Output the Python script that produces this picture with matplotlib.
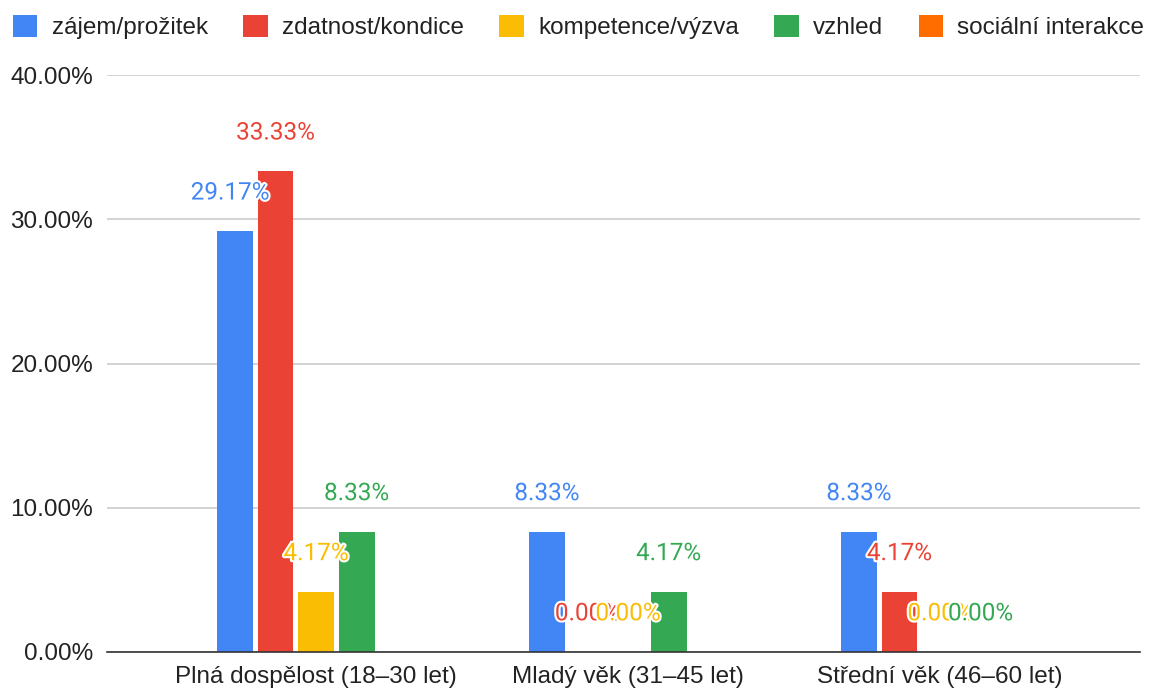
import matplotlib.pyplot as plt
import matplotlib.patheffects as pe
import numpy as np

categories = ["Plná dospělost (18–30 let)", "Mladý věk (31–45 let)", "Střední věk (46–60 let)"]
series = ["zájem/prožitek", "zdatnost/kondice", "kompetence/výzva", "vzhled", "sociální interakce"]
zajem = [29.17, 8.33, 8.33]
zdatnost = [33.33, 0.00, 4.17]
kompetence = [4.17, 0.00, 0.00]
vzhled = [8.33, 4.17, 0.00]
socialni = [np.nan, np.nan, np.nan]   # no data for this one
colors = ["#4285F4", "#EA4335", "#FBBC04", "#34A853", "#FF6D01"]

values = [zajem, zdatnost, kompetence, vzhled, socialni]

plt.rcParams['font.family'] = ['Liberation Sans', 'DejaVu Sans']

fig = plt.figure(figsize=(11.56, 6.91), dpi=100)
ax = fig.add_axes([107/1156, 1-652/691, (1140-107)/1156, (652-75)/691])

x = np.arange(len(categories))
width = 0.115
step = 0.13

for i, (name, vals) in enumerate(zip(series, values)):
    pos = x + (i - 2) * step
    ax.bar(pos, vals, width, color=colors[i], label=name, zorder=3)

# data labels, drawn after all bars so they sit on top
for i, vals in enumerate(values):
    pos = x + (i - 2) * step
    for xp, v in zip(pos, vals):
        if np.isnan(v):
            continue
        dx = -3.5 if v == 29.17 else 0   # google nudges this one left
        ax.annotate("%.2f%%" % v, (xp, v), xytext=(dx, 27.5), textcoords='offset points',
                    ha='center', va='center', fontsize=17.5, color=colors[i],
                    family=['Roboto', 'DejaVu Sans'], zorder=5,
                    path_effects=[pe.withStroke(linewidth=3, foreground='white')])

ax.set_xlim(-0.67, 2.641)
ax.set_ylim(0, 40)
ax.set_yticks([0, 10, 20, 30, 40])
ax.set_yticklabels(["%.2f%%" % t for t in [0, 10, 20, 30, 40]])
ax.set_xticks(x)
ax.set_xticklabels(categories)
ax.tick_params(axis='both', length=0, labelsize=17.5, colors='#222222')
ax.tick_params(axis='y', pad=10)
ax.tick_params(axis='x', pad=10)

ax.grid(axis='y', color='#cccccc', linewidth=1.2, zorder=0)
for s in ['top', 'right', 'left']:
    ax.spines[s].set_visible(False)
ax.spines['bottom'].set_color('#333333')
ax.spines['bottom'].set_linewidth(1.2)
ax.spines['bottom'].set_zorder(4)

fig.legend(loc='center left', bbox_to_anchor=(13/1156, 1-27/691), ncol=5, frameon=False,
           fontsize=17.5, handlelength=1.0, handleheight=1.0, handletextpad=0.6,
           columnspacing=1.45, borderpad=0, borderaxespad=0, labelcolor='#222222')

fig.savefig("out.png", dpi=100)
